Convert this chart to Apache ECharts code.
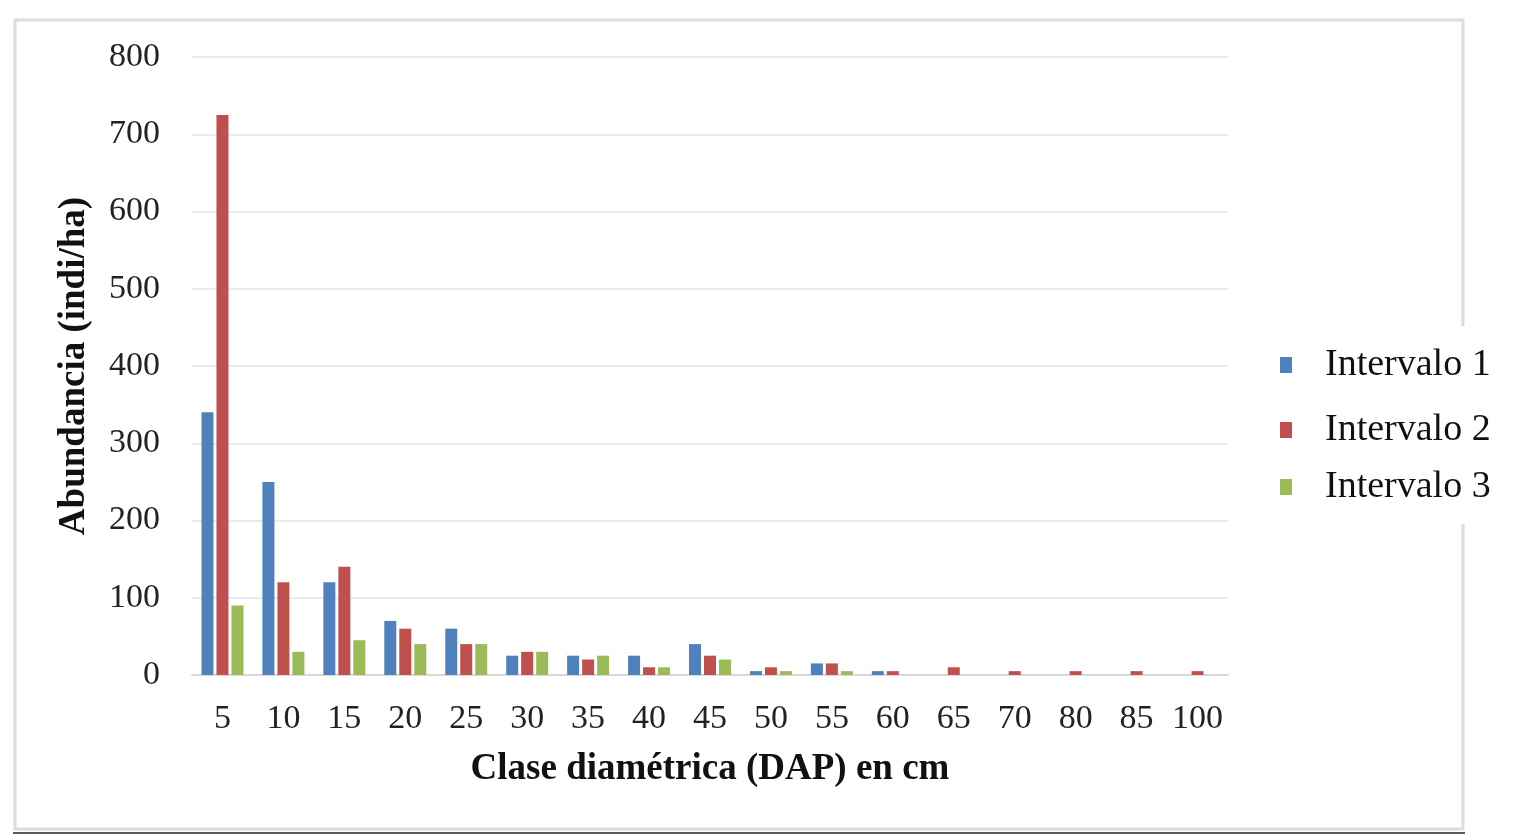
<!DOCTYPE html>
<html>
<head>
<meta charset="utf-8">
<script src="https://cdn.jsdelivr.net/npm/echarts@6/dist/echarts.min.js"></script>
<style>
html, body { margin: 0; padding: 0; background: #fff; }
#chart { width: 1528px; height: 836px; }
</style>
</head>
<body>
<div id="chart"></div>
<script>
// clases diamétricas (cm)
const categories = ['5', '10', '15', '20', '25', '30', '35', '40', '45', '50', '55', '60', '65', '70', '80', '85', '100'];
const intervalo1 = [340, 250, 120, 70, 60, 25, 25, 25, 40, 5, 15, 5, 0, 0, 0, 0, 0];
const intervalo2 = [725, 120, 140, 60, 40, 30, 20, 10, 25, 10, 15, 5, 10, 5, 5, 5, 5];
const intervalo3 = [90, 30, 45, 40, 40, 30, 25, 10, 20, 5, 5, 0, 0, 0, 0, 0, 0];
const yTicks = [0, 100, 200, 300, 400, 500, 600, 700, 800];

const serif = '"Liberation Serif", "DejaVu Serif", serif';
const chart = echarts.init(document.getElementById('chart'));

function legendItem(name, top) {
    return {
        data: [name],
        left: 1280,
        top: top,
        orient: 'vertical',
        icon: 'rect',
        itemWidth: 12,
        itemHeight: 16,
        itemGap: 0,
        padding: 0,
        textStyle: { fontFamily: serif, fontSize: 38, color: '#111', padding: [0, 0, 0, 28] }
    };
}

const option = {
    animation: false,
    backgroundColor: '#fff',
    color: ['#4f81bd', '#c0504d', '#9bbb59'],
    graphic: [
        {
            type: 'rect', z: 0, silent: true,
            shape: { x: 15, y: 20, width: 1448, height: 809 },
            style: { fill: 'none', stroke: '#dcdcdc', lineWidth: 3 }
        },
        {
            type: 'rect', z: 1, silent: true,
            shape: { x: 1455, y: 326, width: 16, height: 198 },
            style: { fill: '#fff' }
        },
        {
            type: 'rect', z: 1, silent: true,
            shape: { x: 13, y: 832, width: 1452, height: 2 },
            style: { fill: '#5a5a5a' }
        }
    ],
    legend: [
        legendItem('Intervalo 1', 346),
        legendItem('Intervalo 2', 411),
        legendItem('Intervalo 3', 468)
    ],
    grid: { left: 192, right: 300, top: 57, bottom: 161 },
    xAxis: {
        type: 'category',
        data: categories,
        name: 'Clase diamétrica (DAP) en cm',
        nameLocation: 'middle',
        nameGap: 76,
        nameTextStyle: { fontFamily: serif, fontSize: 37, fontWeight: 'bold', color: '#111' },
        axisTick: { show: false },
        axisLine: { lineStyle: { color: '#d9d9d9', width: 2 } },
        axisLabel: { fontFamily: serif, fontSize: 34, color: '#222', margin: 27, interval: 0 }
    },
    yAxis: {
        type: 'value',
        min: yTicks[0],
        max: yTicks[yTicks.length - 1],
        interval: 100,
        name: 'Abundancia (indi/ha)',
        nameLocation: 'middle',
        nameGap: 99,
        nameTextStyle: { fontFamily: serif, fontSize: 37, fontWeight: 'bold', color: '#111' },
        axisLine: { show: false },
        axisTick: { show: false },
        splitLine: { lineStyle: { color: '#e3e3e3', width: 1.5 } },
        axisLabel: { fontFamily: serif, fontSize: 34, color: '#222', margin: 32 }
    },
    series: [
        { name: 'Intervalo 1', type: 'bar', data: intervalo1, barWidth: 12, barGap: '25%' },
        { name: 'Intervalo 2', type: 'bar', data: intervalo2, barWidth: 12, barGap: '25%' },
        { name: 'Intervalo 3', type: 'bar', data: intervalo3, barWidth: 12, barGap: '25%' }
    ]
};
chart.setOption(option);
</script>
</body>
</html>
